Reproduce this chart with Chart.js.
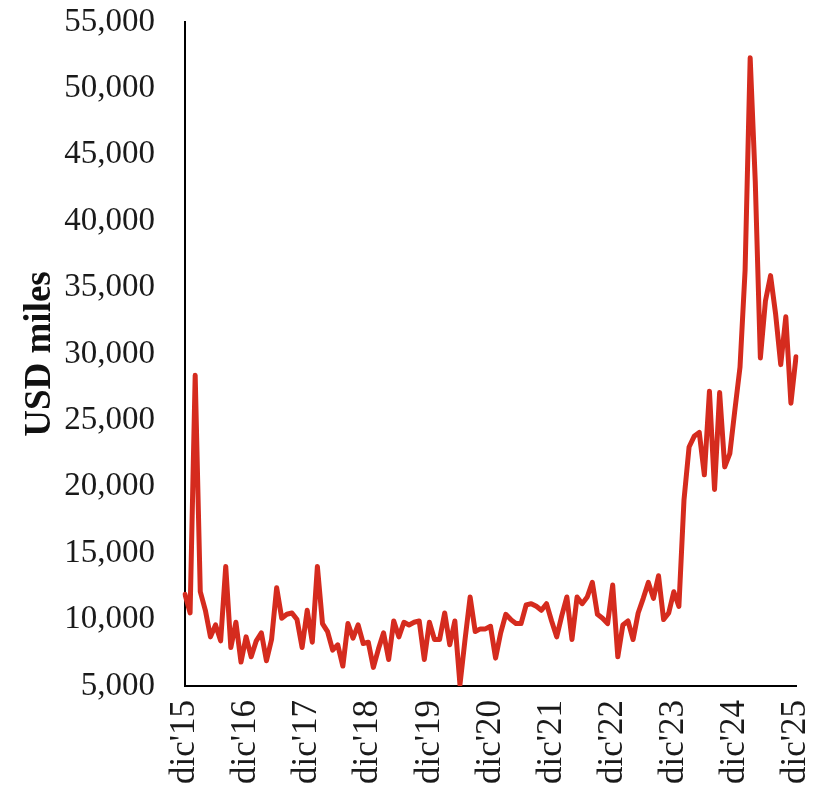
<!DOCTYPE html>
<html>
<head>
<meta charset="utf-8">
<script src="https://cdn.jsdelivr.net/npm/chart.js@4.4.1/dist/chart.umd.min.js"></script>
<style>
  html, body { margin: 0; padding: 0; background: #fff; }
  #wrap { width: 818px; height: 787px; }
</style>
</head>
<body>
<div id="wrap"><canvas id="usdChart"></canvas></div>
<script>
// monthly series, dic'15 .. dic'25
const monthNames = ['ene', 'feb', 'mar', 'abr', 'may', 'jun', 'jul', 'ago', 'sep', 'oct', 'nov', 'dic'];
const startYear = 15;   // first point = dic'15

const usdValues = [
    11900, 10500, 28400, 12100, 10700, 8700, 9600, 8400, 14000, 7900, 9800, 6800,
    8700, 7200, 8400, 9000, 6900, 8500, 12400, 10100, 10400, 10500, 10000, 7900,
    10700, 8300, 14000, 9700, 9100, 7700, 8100, 6500, 9700, 8600, 9600, 8200,
    8300, 6400, 7800, 9000, 7000, 9900, 8700, 9800, 9600, 9800, 9900, 7000,
    9800, 8500, 8500, 10500, 8100, 9900, 5100, 8500, 11700, 9100, 9300, 9300,
    9500, 7100, 9000, 10400, 10000, 9700, 9700, 11100, 11200, 11000, 10700, 11200,
    9900, 8700, 10300, 11700, 8500, 11700, 11200, 11700, 12800, 10400, 10100, 9700,
    12600, 7200, 9600, 9900, 8500, 10500, 11600, 12800, 11600, 13300, 10000, 10500,
    12100, 11000, 19000, 23000, 23800, 24100, 20900, 27200, 19800, 27100, 21500, 22500,
    25800, 29000, 36300, 52300, 43000, 29700, 34000, 35900, 33000, 29200, 32800, 26300,
    29800
];

const yTicks = { min: 5000, max: 55000, step: 5000 };
const axisTitle = 'USD miles';

// build month labels: dic'15, ene'16, ...
function buildLabels(count) {
    const labels = [];
    for (let i = 0; i < count; i++) {
        const m = (11 + i) % 12;
        const y = startYear + Math.floor((11 + i) / 12);
        labels.push(monthNames[m] + "'" + y);
    }
    return labels;
}

const labels = buildLabels(usdValues.length);
const fontFamily = "'Liberation Serif', serif";

new Chart(document.getElementById('usdChart').getContext('2d'), {
    type: 'line',
    data: {
        labels: labels,
        datasets: [{
            label: axisTitle,
            data: usdValues,
            borderColor: '#d52b1e',
            borderWidth: 5,
            pointRadius: 0,
            tension: 0,
            borderJoinStyle: 'round',
            borderCapStyle: 'round',
            fill: false
        }]
    },
    options: {
        responsive: true,
        maintainAspectRatio: false,
        animation: false,
        layout: {
            padding: { left: 14, right: 0, top: 0, bottom: 0 }
        },
        plugins: {
            legend: { display: false },
            tooltip: { enabled: false }
        },
        scales: {
            x: {
                offset: false,
                grid: { display: false, drawTicks: false },
                border: { display: true, color: '#000', width: 2 },
                ticks: {
                    autoSkip: false,
                    maxRotation: 90,
                    minRotation: 90,
                    padding: 14,
                    color: '#1a1a1a',
                    font: { family: fontFamily, size: 35 },
                    callback: function (value, index) {
                        return index % 12 === 0 ? this.getLabelForValue(value) : '';
                    }
                },
                afterFit: scale => {
                    // keep the plot area where the original has it
                    scale.height = 101;
                    scale.paddingLeft = 0;
                    scale.paddingRight = 22;
                }
            },
            y: {
                min: yTicks.min,
                max: yTicks.max,
                grid: { display: false, drawTicks: false },
                border: { display: true, color: '#000', width: 2 },
                title: {
                    display: true,
                    text: axisTitle,
                    color: '#111',
                    font: { family: fontFamily, size: 37, weight: 'bold' }
                },
                ticks: {
                    stepSize: yTicks.step,
                    padding: 30,
                    color: '#1a1a1a',
                    font: { family: fontFamily, size: 33 },
                    callback: v => v.toLocaleString('en-US')
                },
                afterFit: scale => {
                    scale.width = 171;
                    scale.paddingTop = 22;
                    scale.paddingBottom = 0;
                }
            }
        }
    }
});
</script>
</body>
</html>
